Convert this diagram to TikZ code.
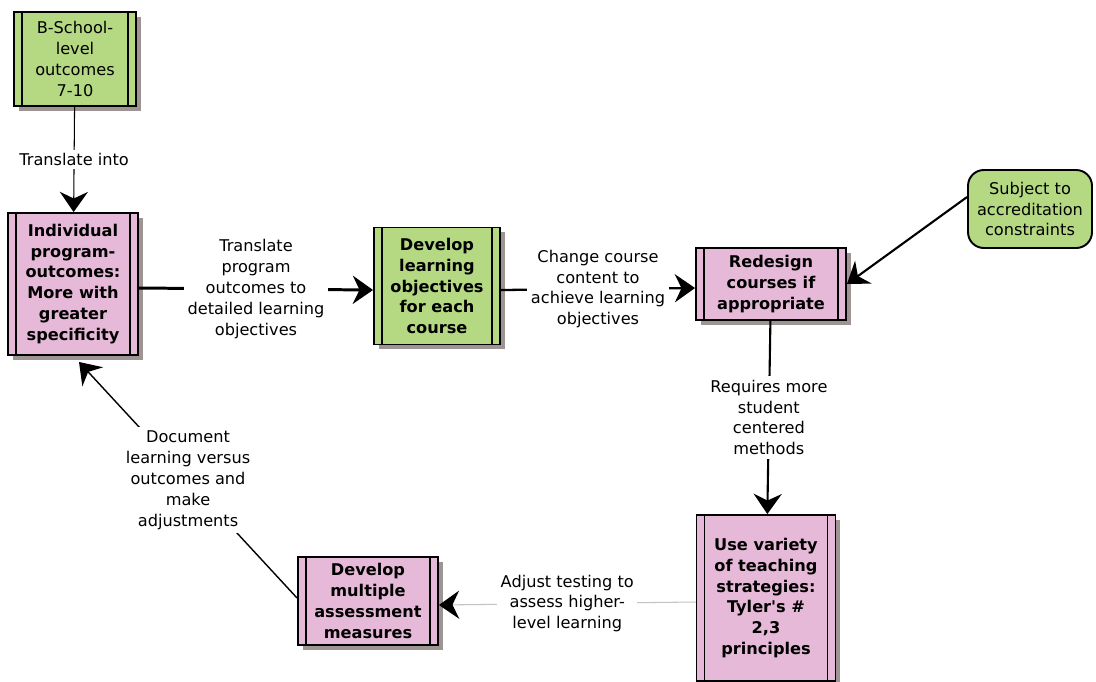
\documentclass[tikz,border=0pt]{standalone}
\usepackage{fontspec}
\setmainfont{DejaVu Sans}[Ligatures=TeXOff]
\usetikzlibrary{arrows.meta, shadows}
\definecolor{boxgreen}{RGB}{181,217,131}
\definecolor{boxpink}{RGB}{229,185,215}
\definecolor{shadowgray}{RGB}{158,148,148}
\definecolor{lightline}{RGB}{195,195,195}

\begin{document}
\begin{tikzpicture}[x=0.02cm, y=-0.02cm,
    procbox/.style ={draw, line width=1.1pt, align=center, inner sep=0pt,
                     font=\fontsize{9.2}{11.9}\selectfont\bfseries,
                     drop shadow={shadow xshift=2.6pt, shadow yshift=-2.6pt,
                                  opacity=1, fill=shadowgray},
                     path picture={
                       \draw[line width=1.1pt]
                         ([xshift=0.16cm]path picture bounding box.north west)
                           -- ([xshift=0.16cm]path picture bounding box.south west)
                         ([xshift=-0.16cm]path picture bounding box.north east)
                           -- ([xshift=-0.16cm]path picture bounding box.south east);}},
    greenbox/.style={procbox, fill=boxgreen},
    pinkbox/.style ={procbox, fill=boxpink},
    notebox/.style ={draw, line width=1.1pt, rounded corners=9pt, fill=boxgreen,
                     align=center, font=\fontsize{9.2}{11.9}\selectfont},
    arr/.style     ={-{Stealth[length=11.5pt, width=16pt, inset=3.8pt, black]}},
    lbl/.style     ={fill=white, align=center, inner sep=2pt,
                     font=\fontsize{9.2}{11.9}\selectfont}
]
\useasboundingbox (0,0) rectangle (1096,681);

%% -- Boxes ---------------------------------------------------------
\node[greenbox, font=\fontsize{9.2}{11.9}\selectfont,
      minimum width=2.44cm, minimum height=1.88cm] (bschool) at (75,59)
    {B-School-\\level\\outcomes\\7-10};
\node[pinkbox, minimum width=2.60cm, minimum height=2.84cm] (indiv) at (73,284)
    {Individual\\program-\\outcomes:\\More with\\greater\\specificity};
\node[greenbox, minimum width=2.52cm, minimum height=2.34cm] (devobj) at (437,286)
    {Develop\\learning\\objectives\\for each\\course};
\node[pinkbox, minimum width=3.00cm, minimum height=1.44cm] (redesign) at (771,284)
    {Redesign\\courses if\\appropriate};
\node[notebox, minimum width=2.48cm, minimum height=1.56cm] (subject) at (1030,209)
    {Subject to\\accreditation\\constraints};
\node[pinkbox, minimum width=2.78cm, minimum height=3.32cm] (variety) at (766,598)
    {Use variety\\of teaching\\strategies:\\Tyler's \#\\2,3\\principles};
\node[pinkbox, minimum width=2.80cm, minimum height=1.76cm] (devmulti) at (368,601)
    {Develop\\multiple\\assessment\\measures};

%% -- Connectors ----------------------------------------------------
\draw[arr, line width=0.6pt] (bschool) -- node[lbl]{Translate into} (indiv);
\draw[arr, line width=1.7pt] ([yshift=-0.08cm]indiv.east) --
    node[lbl]{Translate\\program\\outcomes to\\detailed learning\\objectives}
    ([yshift=-0.08cm]devobj.west);
\draw[arr, line width=1.3pt] ([yshift=-0.08cm]devobj.east) --
    node[lbl]{Change course\\content to\\achieve learning\\objectives}
    ([yshift=-0.08cm]redesign.west);
\draw[arr, line width=1.2pt] ([yshift=0.24cm]subject.west) -- (redesign.east);
\draw[arr, line width=1.2pt] (redesign) --
    node[lbl]{Requires more\\student\\centered\\methods} (variety);
\draw[arr, draw=lightline, line width=0.6pt] ([yshift=-0.08cm]variety.west) --
    node[lbl]{Adjust testing to\\assess higher-\\level learning}
    ([yshift=-0.08cm]devmulti.west -| devmulti.east);
\draw[arr, line width=0.8pt] ([yshift=0.06cm]devmulti.west) --
    node[lbl]{Document\\learning versus\\outcomes and\\make\\adjustments}
    ([xshift=0.12cm, yshift=-0.12cm]indiv.south);

\end{tikzpicture}
\end{document}
